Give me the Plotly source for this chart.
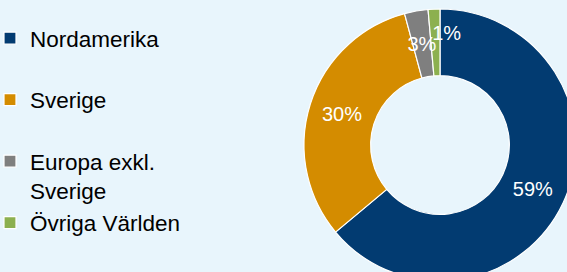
import textwrap
import plotly.graph_objects as go

# ---- data ----
categories = ["Nordamerika", "Sverige", "Europa exkl. Sverige", "Övriga Världen"]
values = [59.4, 29.6, 2.6, 1.3]
colors = ["#023B71", "#D48C00", "#7F7F7F", "#8CB04F"]

BG = "#E8F5FC"
FONT = "Liberation Sans, Arial, sans-serif"

# legend labels wrapped like the original (two text rows per entry)
legend_labels = []
for c in categories:
    rows = textwrap.wrap(c, 14)
    while len(rows) < 2:
        rows.append(" ")
    legend_labels.append("<br>".join(rows))

W, H = 580, 290
CX, CY, R = 440, 145, 136      # donut centre / radius in px

fmt = "%{value:.0f}%"
n = len(values)


def dom(r):
    return dict(x=[(CX - r) / W, (CX + r) / W],
                y=[(H - CY - r) / H, (H - CY + r) / H])


def label_carrier(idx, r, rot):
    """transparent copy of the same data that only shows the label of slice idx"""
    return go.Pie(
        labels=legend_labels,
        values=values,
        sort=False,
        direction="clockwise",
        rotation=rot,
        hole=0.51,
        marker=dict(colors=["rgba(0,0,0,0)"] * n, line=dict(width=0)),
        texttemplate=[fmt if i == idx else "" for i in range(n)],
        textposition="inside",
        insidetextorientation="horizontal",
        textfont=dict(color="white", size=20, family=FONT),
        domain=dom(r),
        hoverinfo="skip",
        showlegend=False,
    )


fig = go.Figure()
fig.add_trace(
    go.Pie(
        labels=legend_labels,
        values=values,
        sort=False,
        direction="clockwise",
        rotation=0,
        hole=0.51,
        marker=dict(colors=colors, line=dict(color="white", width=1.2)),
        texttemplate=[fmt if v >= 10 else "" for v in values],
        textposition="inside",
        insidetextorientation="horizontal",
        textfont=dict(color="white", size=20, family=FONT),
        domain=dom(R),
        hoverinfo="label+percent",
    )
)
# labels of the two thin slices, placed like in the original
fig.add_trace(label_carrier(2, 112, 0))
fig.add_trace(label_carrier(3, 117, 6))

fig.update_layout(
    width=W,
    height=H,
    margin=dict(l=0, r=0, t=0, b=0, autoexpand=False),
    paper_bgcolor=BG,
    plot_bgcolor=BG,
    font=dict(family=FONT, color="#000000"),
    uniformtext=dict(minsize=20, mode="show"),
    showlegend=True,
    legend=dict(
        x=-10 / W,
        xanchor="left",
        y=1 - 17 / H,
        yanchor="top",
        font=dict(size=22.5, family=FONT, color="#000000"),
        bgcolor="rgba(0,0,0,0)",
        valign="top",
        traceorder="normal",
    ),
)

post = (
    "document.documentElement.style.overflow='hidden';"
    "document.body.style.overflow='hidden';"
    "document.body.style.margin='0';"
    "document.body.style.background='" + BG + "';"
)
fig.write_html("out.html", post_script=post, config={"displayModeBar": False})
